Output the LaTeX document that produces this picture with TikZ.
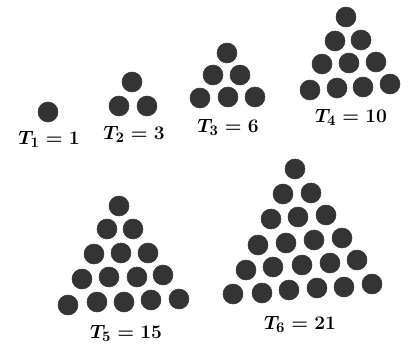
\documentclass[tikz,border=0pt]{standalone}
\definecolor{dotgray}{RGB}{52,52,52}
\tikzset{
  pebble/.style={fill=dotgray,draw=dotgray},
  tlabel/.style={font=\fontsize{15.5}{18}\selectfont\boldmath,inner sep=0pt}
}
\begin{document}
\begin{tikzpicture}[x=0.75pt,y=-0.75pt]
\useasboundingbox (0,0) rectangle (408,354);
% T1
\draw[pebble] (48,112) circle[radius=10];
\node[tlabel] (t1) at (49,139) {$T_1=1$};
% T2
\draw[pebble] (132,82) circle[radius=10];
\draw[pebble] (119,106) circle[radius=10] (147,106) circle[radius=10];
\node[tlabel] (t2) at (134,134) {$T_2=3$};
% T3
\draw[pebble] (227,53) circle[radius=10];
\draw[pebble] (213,75) circle[radius=10] (240,75) circle[radius=10];
\draw[pebble] (200,98) circle[radius=10] (228,97) circle[radius=10] (255,97) circle[radius=10];
\node[tlabel] (t3) at (228,127) {$T_3=6$};
% T4
\draw[pebble] (346,17) circle[radius=10];
\draw[pebble] (335,41) circle[radius=10] (361,40) circle[radius=10];
\draw[pebble] (322,64) circle[radius=10] (349,63) circle[radius=10] (376,62) circle[radius=10];
\draw[pebble] (310,90) circle[radius=10] (337,88) circle[radius=10] (363,87) circle[radius=10] (390,84) circle[radius=10];
\node[tlabel] (t4) at (351,117) {$T_4=10$};
% T5
\draw[pebble] (119,206) circle[radius=10];
\draw[pebble] (107,229) circle[radius=10] (133,229) circle[radius=10];
\draw[pebble] (94,254) circle[radius=10] (121,253) circle[radius=10] (148,253) circle[radius=10];
\draw[pebble] (82,279) circle[radius=10] (109,277) circle[radius=10] (137,277) circle[radius=10] (163,275) circle[radius=10];
\draw[pebble] (68,305) circle[radius=10] (97,302) circle[radius=10] (124,302) circle[radius=10] (151,300) circle[radius=10] (179,299) circle[radius=10];
\node[tlabel] (t5) at (126,333) {$T_5=15$};
% T6
\draw[pebble] (295,169) circle[radius=10];
\draw[pebble] (283,194) circle[radius=10] (311,193) circle[radius=10];
\draw[pebble] (271,219) circle[radius=10] (298,217) circle[radius=10] (326,215) circle[radius=10];
\draw[pebble] (258,245) circle[radius=10] (286,243) circle[radius=10] (314,240) circle[radius=10] (342,238) circle[radius=10];
\draw[pebble] (246,270) circle[radius=10] (273,267) circle[radius=10] (302,265) circle[radius=10] (330,263) circle[radius=10] (357,260) circle[radius=10];
\draw[pebble] (233,294) circle[radius=10] (262,293) circle[radius=10] (289,290) circle[radius=10] (317,288) circle[radius=10] (344,287) circle[radius=10] (372,284) circle[radius=10];
\node[tlabel] (t6) at (300,324) {$T_6=21$};
\end{tikzpicture}
\end{document}
